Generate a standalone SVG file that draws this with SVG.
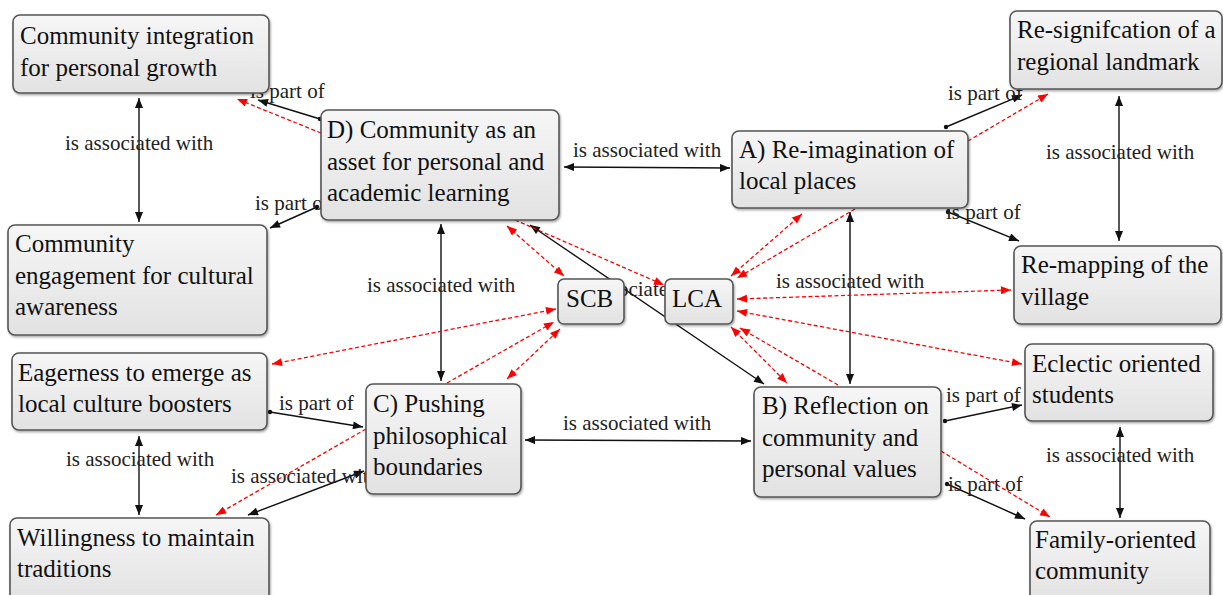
<svg xmlns="http://www.w3.org/2000/svg" width="1223" height="595" viewBox="0 0 1223 595" font-family="'Liberation Serif', Tinos, 'DejaVu Serif', serif">
<defs>
<linearGradient id="g" x1="0" y1="0" x2="0" y2="1"><stop offset="0" stop-color="#f6f6f6"/><stop offset="1" stop-color="#e2e2e2"/></linearGradient>
<filter id="sh" x="-5%" y="-5%" width="110%" height="115%"><feDropShadow dx="1" dy="1.5" stdDeviation="1" flood-color="#000" flood-opacity="0.35"/></filter>
<marker id="ab" viewBox="0 0 10 8" refX="10" refY="4" markerWidth="11" markerHeight="8" markerUnits="userSpaceOnUse" orient="auto-start-reverse"><path d="M0,0 L10,4 L0,8 z" fill="#111"/></marker>
<marker id="ar" viewBox="0 0 10 8" refX="10" refY="4" markerWidth="11" markerHeight="8" markerUnits="userSpaceOnUse" orient="auto-start-reverse"><path d="M0,0 L10,4 L0,8 z" fill="#ff0000"/></marker>
</defs>
<style>
text{font-family:'Liberation Serif', Tinos, 'DejaVu Serif', serif}
.n rect{fill:url(#g);stroke:#555;stroke-width:1.6;filter:url(#sh)}
.n text{font-size:25px;fill:#111}
.b{stroke:#111;stroke-width:1.4;fill:none}
.r{stroke:#ff0000;stroke-width:1.3;stroke-dasharray:4 2.5;fill:none}
.one{marker-end:url(#ab)}
.two{marker-start:url(#ab);marker-end:url(#ab)}
.rone{marker-end:url(#ar)}
.rtwo{marker-start:url(#ar);marker-end:url(#ar)}
.l{font-size:21px;fill:#222}
.d{fill:#111}
</style>
<rect width="1223" height="595" fill="#fff"/>
<g id="connectors">
<line class="b two" x1="139" y1="98" x2="139" y2="222"/>
<text class="l" x="65" y="150">is associated with</text>
<line class="b one" x1="320" y1="119" x2="258" y2="100"/><circle class="d" cx="320" cy="119" r="2.2"/>
<text class="l" x="250" y="98">is part of</text>
<line class="b one" x1="317" y1="207" x2="270" y2="228"/><circle class="d" cx="317" cy="207" r="2.2"/>
<text class="l" x="255" y="210">is part of</text>
<line class="b two" x1="564" y1="167" x2="730" y2="168"/>
<text class="l" x="573" y="157">is associated with</text>
<line class="b one" x1="946" y1="127" x2="1022" y2="95"/><circle class="d" cx="946" cy="127" r="2.2"/>
<text class="l" x="948" y="100">is part of</text>
<line class="b one" x1="948" y1="212" x2="1019" y2="241"/><circle class="d" cx="948" cy="212" r="2.2"/>
<text class="l" x="946" y="219">is part of</text>
<line class="b two" x1="1119" y1="96" x2="1119" y2="241"/>
<text class="l" x="1046" y="159">is associated with</text>
<line class="b two" x1="441" y1="224" x2="441" y2="381"/>
<text class="l" x="367" y="292">is associated with</text>
<line class="b two" x1="850" y1="212" x2="850" y2="384"/>
<text class="l" x="776" y="288">is associated with</text>
<line class="b two" x1="530" y1="225" x2="764" y2="384"/>
<text class="l" x="573" y="296">is associated with</text>
<line class="b one" x1="270" y1="412" x2="363" y2="427"/><circle class="d" cx="270" cy="412" r="2.2"/>
<text class="l" x="279" y="410">is part of</text>
<line class="b two" x1="139" y1="436" x2="139" y2="515"/>
<text class="l" x="66" y="466">is associated with</text>
<line class="b two" x1="364" y1="471" x2="248" y2="515"/>
<text class="l" x="231" y="483">is associated with</text>
<line class="b two" x1="525" y1="440" x2="751" y2="441"/>
<text class="l" x="563" y="430">is associated with</text>
<line class="b one" x1="945" y1="421" x2="1022" y2="405"/><circle class="d" cx="945" cy="421" r="2.2"/>
<text class="l" x="946" y="402">is part of</text>
<line class="b one" x1="947" y1="484" x2="1025" y2="519"/><circle class="d" cx="947" cy="484" r="2.2"/>
<text class="l" x="948" y="491">is part of</text>
<line class="b two" x1="1120" y1="427" x2="1120" y2="518"/>
<text class="l" x="1046" y="462">is associated with</text>
<line class="r rone" x1="321" y1="133" x2="237" y2="99"/>
<line class="r rone" x1="968" y1="141" x2="1048" y2="94"/>
<line class="r rtwo" x1="507" y1="226" x2="564" y2="276"/>
<line class="r rone" x1="515" y1="220" x2="664" y2="285"/>
<line class="r rtwo" x1="272" y1="364" x2="556" y2="309"/>
<line class="r rone" x1="447" y1="383" x2="554" y2="322"/>
<line class="r rtwo" x1="507" y1="379" x2="560" y2="329"/>
<line class="r rone" x1="366" y1="429" x2="216" y2="515"/>
<line class="r rtwo" x1="731" y1="276" x2="802" y2="214"/>
<line class="r rone" x1="855" y1="209" x2="737" y2="278"/>
<line class="r rtwo" x1="737" y1="299" x2="1011" y2="290"/>
<line class="r rtwo" x1="737" y1="311" x2="1022" y2="364"/>
<line class="r rtwo" x1="731" y1="327" x2="787" y2="383"/>
<line class="r rone" x1="838" y1="385" x2="740" y2="328"/>
<line class="r rone" x1="941" y1="451" x2="1050" y2="517"/>
</g>
<g id="n1" class="n"><rect x="13" y="15" width="256" height="78" rx="7"/><text x="20" y="44">Community integration</text><text x="20" y="76">for personal growth</text></g>
<g id="nD" class="n"><rect x="321" y="110" width="238" height="110" rx="7"/><text x="327" y="138">D) Community as an</text><text x="327" y="170">asset for personal and</text><text x="327" y="201">academic learning</text></g>
<g id="n3" class="n"><rect x="8" y="225" width="259" height="110" rx="7"/><text x="15" y="252">Community</text><text x="15" y="284">engagement for cultural</text><text x="15" y="315">awareness</text></g>
<g id="n4" class="n"><rect x="12" y="353" width="255" height="77" rx="7"/><text x="18" y="381">Eagerness to emerge as</text><text x="18" y="412">local culture boosters</text></g>
<g id="n5" class="n"><rect x="10" y="518" width="259" height="84" rx="7"/><text x="17" y="546">Willingness to maintain</text><text x="17" y="577">traditions</text></g>
<g id="nC" class="n"><rect x="366" y="384" width="155" height="110" rx="7"/><text x="373" y="412">C) Pushing</text><text x="373" y="444">philosophical</text><text x="373" y="475">boundaries</text></g>
<g id="nSCB" class="n"><rect x="558" y="279" width="66" height="45" rx="6"/><text x="566" y="307">SCB</text></g>
<g id="nLCA" class="n"><rect x="665" y="279" width="68" height="45" rx="6"/><text x="672" y="307">LCA</text></g>
<g id="nA" class="n"><rect x="732" y="131" width="236" height="77" rx="7"/><text x="739" y="158">A) Re-imagination of</text><text x="739" y="189">local places</text></g>
<g id="nRS" class="n"><rect x="1010" y="11" width="212" height="78" rx="7"/><text x="1017" y="38">Re-signifcation of a</text><text x="1017" y="70">regional landmark</text></g>
<g id="nRM" class="n"><rect x="1014" y="246" width="207" height="78" rx="7"/><text x="1021" y="273">Re-mapping of the</text><text x="1021" y="305">village</text></g>
<g id="nB" class="n"><rect x="754" y="387" width="187" height="110" rx="7"/><text x="762" y="414">B) Reflection on</text><text x="762" y="446">community and</text><text x="762" y="477">personal values</text></g>
<g id="nE" class="n"><rect x="1025" y="344" width="188" height="77" rx="7"/><text x="1032" y="372">Eclectic oriented</text><text x="1032" y="403">students</text></g>
<g id="nF" class="n"><rect x="1030" y="521" width="180" height="82" rx="7"/><text x="1035" y="548">Family-oriented</text><text x="1035" y="579">community</text></g>
</svg>
